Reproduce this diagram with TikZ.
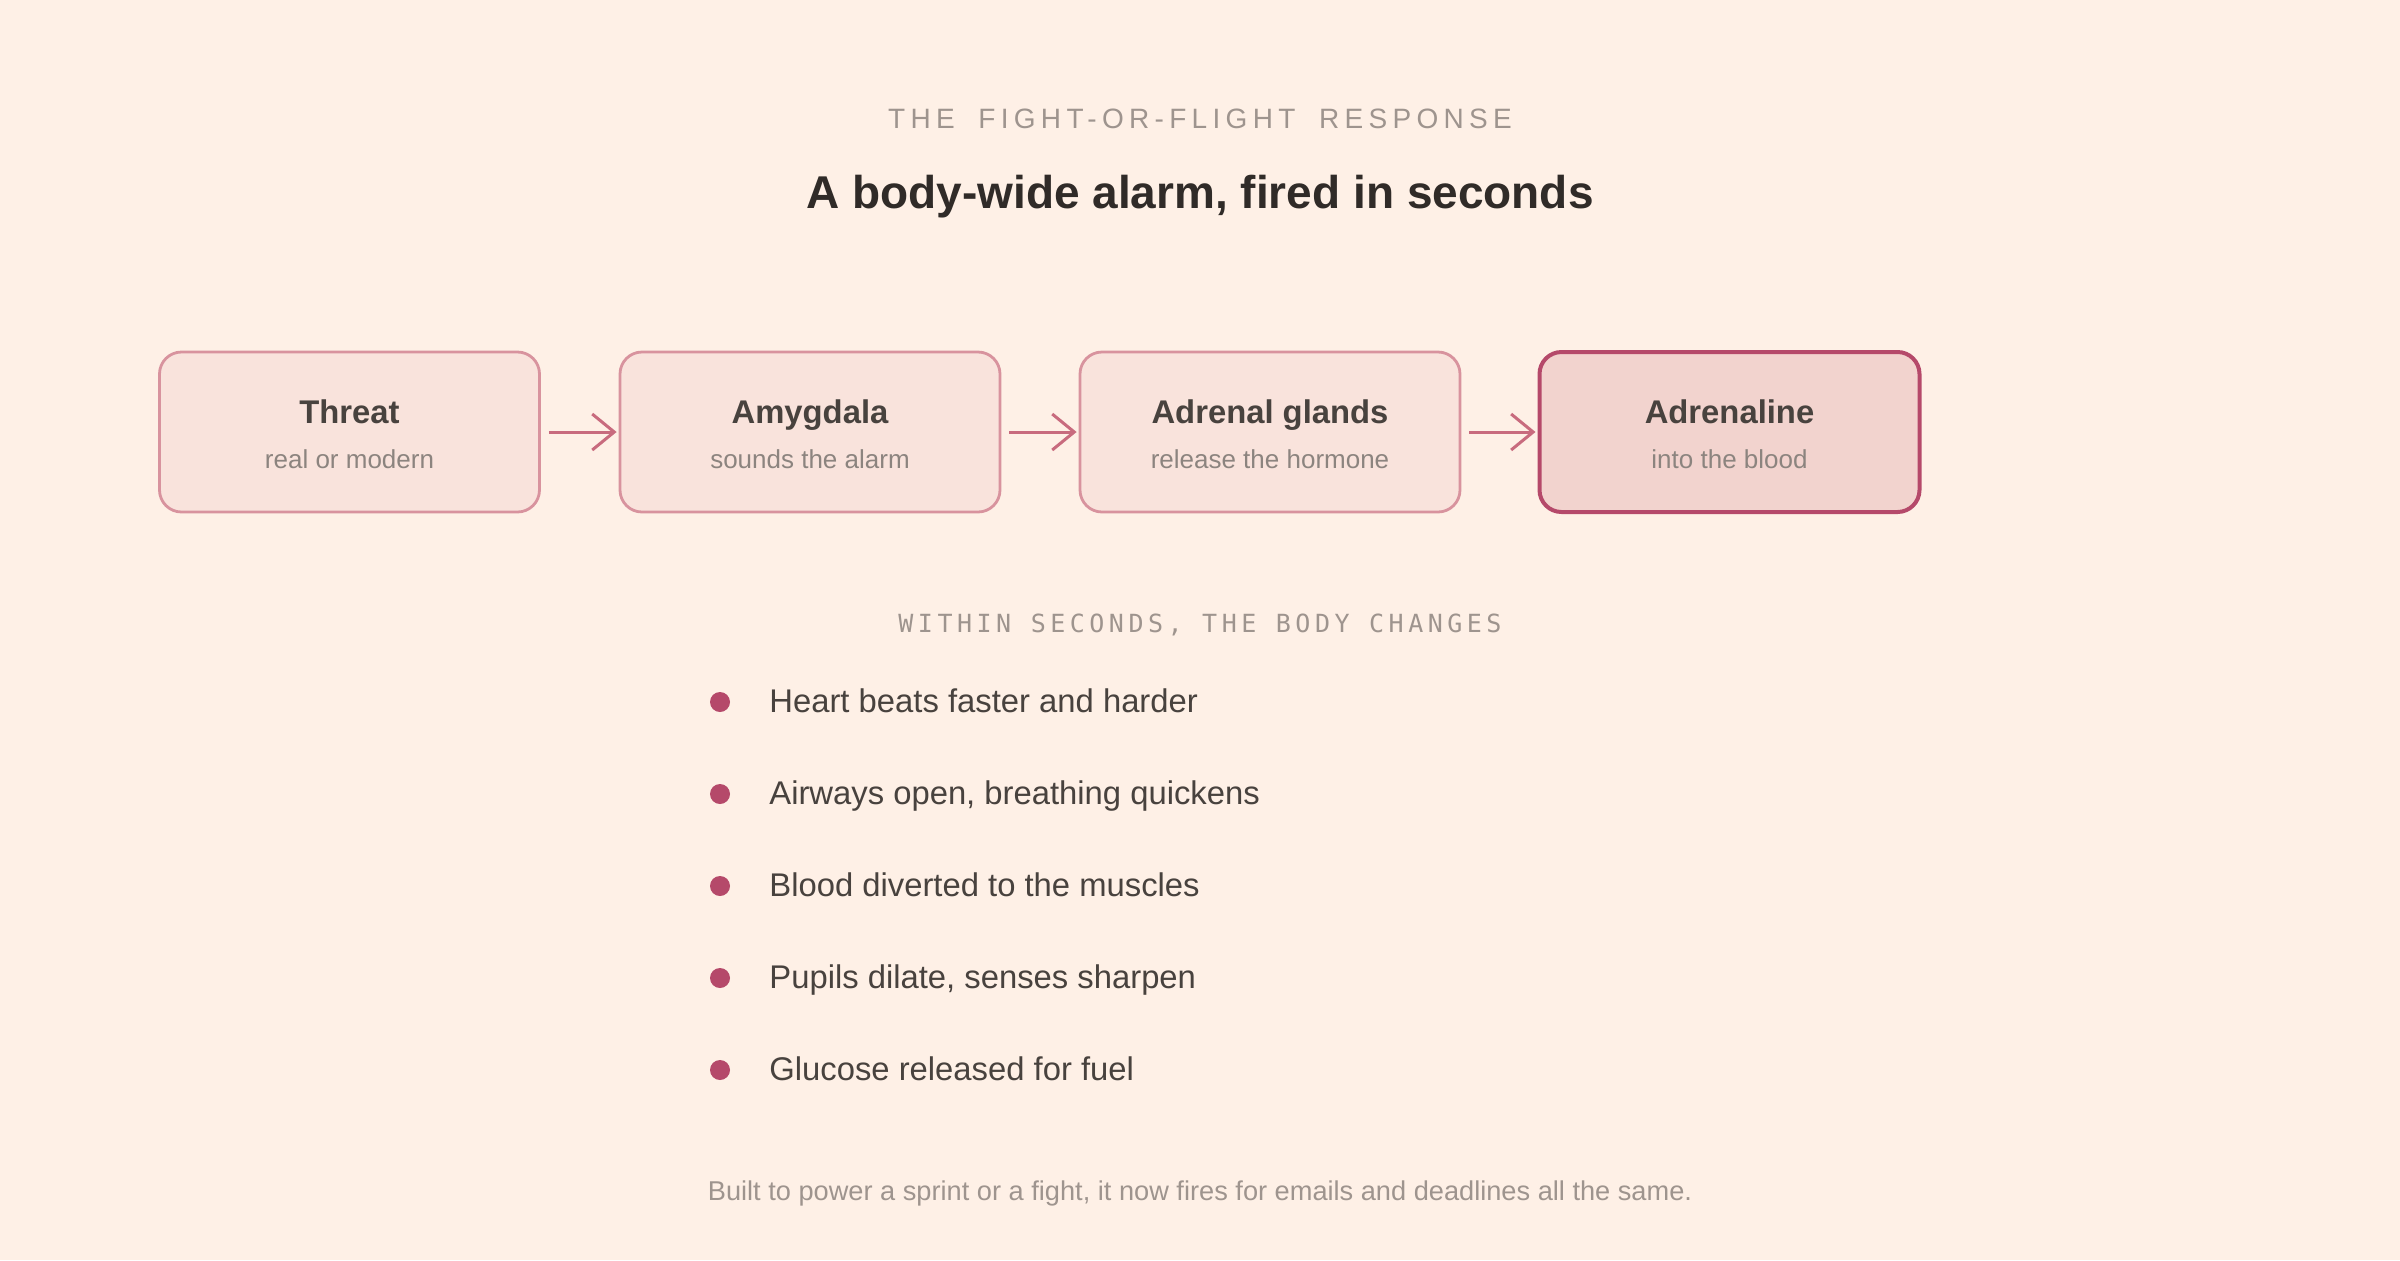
\documentclass[tikz,border=0pt]{standalone}
\usepackage{fontspec}
\setmainfont{Liberation Sans}
\newfontfamily\capsfont[LetterSpace=19,WordSpace=1.8]{Liberation Sans}
\newfontfamily\codefont[LetterSpace=18]{DejaVu Sans Mono}
\usetikzlibrary{arrows.meta,positioning}
\definecolor{bg}{HTML}{FEF0E6}
\definecolor{boxfill}{HTML}{F9E3DC}
\definecolor{boxline}{HTML}{D8939E}
\definecolor{hotfill}{HTML}{F2D3CE}
\definecolor{hotline}{HTML}{B5496A}
\definecolor{arrowc}{HTML}{C86B7E}
\definecolor{ink}{HTML}{48423E}
\definecolor{inkdark}{HTML}{302B28}
\definecolor{muted}{HTML}{8C847F}
\definecolor{faint}{HTML}{9E948E}

\begin{document}
\begin{tikzpicture}[x=0.5pt,y=-0.5pt,
  stage/.style={draw=boxline, fill=boxfill, line width=1.4pt, rounded corners=11pt,
                minimum width=190pt, minimum height=80pt},
  hot/.style={stage, draw=hotline, fill=hotfill, line width=2pt},
  stitle/.style={anchor=base, text=ink, font=\fontsize{16.4}{19}\selectfont\bfseries},
  ssub/.style={anchor=base, text=muted, font=\fontsize{13}{15}\selectfont},
  dot/.style={circle, fill=hotline, inner sep=0pt, minimum size=10pt},
  item/.style={anchor=base west, inner sep=0pt, text=ink, font=\fontsize{16.4}{19}\selectfont},
  flow/.style={-{Straight Barb[length=11pt,width=18pt,line width=1.5pt]}, draw=arrowc,
               line width=1.5pt, shorten <=4pt, shorten >=1pt}]
  \fill[bg] (0,0) rectangle (2400,1260);
  \useasboundingbox (0,0) rectangle (2400,1260);

  \node[anchor=base, text=faint, font=\capsfont\fontsize{14}{17}\selectfont] (kicker) at (1200,128) {THE FIGHT-OR-FLIGHT RESPONSE};
  \node[anchor=base, text=inkdark, font=\fontsize{23}{28}\selectfont\bfseries] (head) at (1200,208) {A body-wide alarm, fired in seconds};

  \node[stage] (thr) at (349.5,432) {};
  \node[stage] (amy) at (810,432) {};
  \node[stage] (gla) at (1270,432) {};
  \node[hot] (adr) at (1729.5,432) {};

  \node[stitle] (thrt) at (349.5,423) {Threat};
  \node[ssub] (thrs) at (349.5,468) {real or modern};
  \node[stitle] (amyt) at (810,423) {Amygdala};
  \node[ssub] (amys) at (810,468) {sounds the alarm};
  \node[stitle] (glat) at (1270,423) {Adrenal glands};
  \node[ssub] (glas) at (1270,468) {release the hormone};
  \node[stitle] (adrt) at (1729.5,423) {Adrenaline};
  \node[ssub] (adrs) at (1729.5,468) {into the blood};

  \draw[flow] (thr) -- (amy);
  \draw[flow] (amy) -- (gla);
  \draw[flow] (gla) -- (adr);

  \node[anchor=base, text=faint, font=\codefont\fontsize{12.5}{15}\selectfont] (within) at (1200,632) {WITHIN SECONDS, THE BODY CHANGES};

  \node[dot] (d1) at (720,702) {};
  \node[item] (i1) at (769,712) {Heart beats faster and harder};
  \node[dot] (d2) at (720,794) {};
  \node[item] (i2) at (769,804) {Airways open, breathing quickens};
  \node[dot] (d3) at (720,886) {};
  \node[item] (i3) at (769,896) {Blood diverted to the muscles};
  \node[dot] (d4) at (720,978) {};
  \node[item] (i4) at (769,988) {Pupils dilate, senses sharpen};
  \node[dot] (d5) at (720,1070) {};
  \node[item] (i5) at (769,1080) {Glucose released for fuel};

  \node[anchor=base, text=faint, font=\fontsize{13.6}{16}\selectfont] (foot) at (1200,1200) {Built to power a sprint or a fight, it now fires for emails and deadlines all the same.};
\end{tikzpicture}
\end{document}
